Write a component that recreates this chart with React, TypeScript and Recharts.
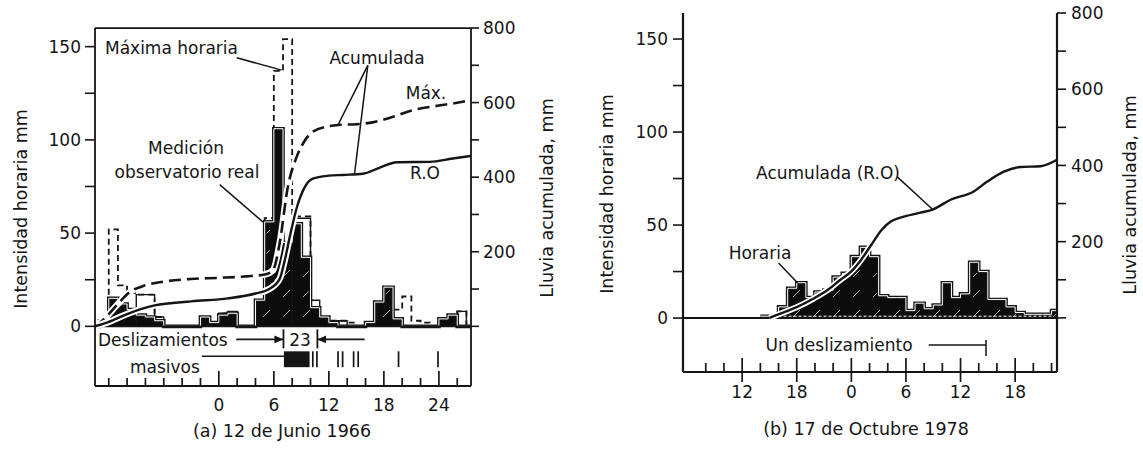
import React from 'react';
import { Area, ComposedChart, Line, ReferenceArea, ReferenceLine, XAxis, YAxis } from 'recharts';

const FUENTE = '"DejaVu Sans", "Liberation Sans", sans-serif';
const TINTA = '#151515';

// ---- (a) 12 de junio de 1966 ----
// intensidad horaria (mm), una casilla por hora a partir de las -14 h
const INICIO_A = -14;
const medicionA = [
  0, 3, 15, 12, 9, 6, 5, 3, 0, 0,
  0, 0, 5, 2, 6, 7, 0, 0, 14, 56,
  106, 45, 55, 37, 10, 5, 2, 0, 0, 0,
  2, 13, 21, 4, 0, 0, 0, 0, 4, 6,
  0, 0,
];
const maximaA = [
  0, 3, 52, 22, 18, 17, 17, 5, 0, 0,
  0, 0, 5, 2, 7, 7, 0, 0, 14, 58,
  137, 154, 59, 59, 10, 5, 3, 3, 2, 0,
  2, 13, 21, 9, 16, 3, 2, 0, 4, 6,
  8, 0,
];
const horariaROA = [
  0, 0, 0, 0, 0, 17, 17, 5, 0, 0,
  0, 0, 0, 0, 7, 8, 0, 0, 0, 0,
  0, 0, 58, 58, 14, 5, 3, 3, 0, 0,
  0, 0, 0, 0, 0, 0, 0, 0, 0, 0,
  8, 0,
];

// lluvia acumulada (mm)
const acumMaxHorasA = [-13.5, -12.5, -11, -9.7, -8, -6, -3, 0, 3, 5, 5.9, 6.65, 7.5, 8.5, 9.3, 10.25, 12.1, 13, 15, 16.8, 19, 21.2, 24, 26.6, 27.5];
const acumMaxA = [0, 20, 60, 92, 110, 120, 127, 130, 134, 139, 150, 225, 370, 455, 495, 522, 537, 540, 542, 547, 562, 580, 592, 602, 607];
const acumROHorasA = [-13.5, -12, -10, -7, -3, 1, 4, 5.5, 6.65, 7.2, 7.74, 8.5, 9.3, 10.25, 12, 13.5, 15.7, 17.5, 19.4, 23, 25.5, 27.5];
const acumROA = [0, 12, 33, 56, 67, 75, 88, 100, 128, 178, 240, 318, 370, 396, 404, 406, 409, 425, 440, 441, 450, 457];

// deslizamientos masivos (hora)
const bloqueMasivoA = [7.1, 9.9];
const deslizamientosA = [10.25, 10.7, 13.0, 13.5, 14.7, 15.2, 19.6, 23.9];
const lapsoA = [7.05, 10.75];

// ---- (b) 17 de octubre de 1978 ----
const INICIO_B = -10;
const horariaB = [
  1, 1, 6, 16, 19, 11, 14, 15, 22, 24,
  33, 38, 33, 12, 11, 11, 4, 8, 5, 7,
  19, 11, 13, 30, 25, 10, 10, 6, 3, 2,
  2, 2, 4,
];
const acumHorasB = [-9, -7.5, -6, -4.2, -2.5, -1.2, 0, 1, 2.2, 3.3, 4.3, 5.4, 7.6, 9, 10.9, 13.4, 14.9, 16.7, 18.6, 20.8, 22.6];
const acumB = [0, 14, 28, 50, 75, 100, 122, 150, 192, 230, 252, 263, 276, 285, 310, 331, 357, 383, 396, 398, 415];
const deslizamientoB = 14.8;

// ejes
const rango = (desde: number, hasta: number, paso: number) => {
  const r: number[] = [];
  for (let v = desde; v <= hasta; v += paso) r.push(v);
  return r;
};
const ticksHoraA = rango(-12, 26, 2);
const etiquetasHoraA: Record<number, string> = { 0: '0', 6: '6', 12: '12', 18: '18', 24: '24' };
const ticksHoraB = rango(-16, 22, 2);
const etiquetasHoraB: Record<number, string> = { [-12]: '12', [-6]: '18', 0: '0', 6: '6', 12: '12', 18: '18' };
const ticksIntensidad = rango(0, 150, 25);
const ticksAcumulada = rango(0, 800, 100);

const pasos = (inicio: number, valores: number[]) => [
  ...valores.map((v, i) => ({ h: inicio + i, v })),
  { h: inicio + valores.length, v: 0 },
];
const puntos = (horas: number[], valores: number[]) => horas.map((h, i) => ({ h, v: valores[i] }));

const tickY = (mostrar: number[]) => (props: any) => {
  const { x, y, payload, textAnchor } = props;
  if (!mostrar.includes(payload.value)) return <g />;
  return (
    <text x={x} y={y} dy="0.36em" textAnchor={textAnchor} fontSize={17} fontFamily={FUENTE} fill={TINTA}>
      {payload.value}
    </text>
  );
};

const tickX = (etiquetas: Record<number, string>, corto: number, largo: number, abajo: number, sep: number) => (props: any) => {
  const { x, y, payload } = props;
  const et = etiquetas[payload.value];
  const mayor = et !== undefined;
  return (
    <g>
      <line x1={x} x2={x} y1={y + (mayor ? abajo : 0)} y2={y - (mayor ? largo : corto)} stroke={TINTA} strokeWidth={1.7} />
      {mayor && (
        <text x={x} y={y + sep} dy="0.36em" textAnchor="middle" fontSize={17} fontFamily={FUENTE} fill={TINTA}>
          {et}
        </text>
      )}
    </g>
  );
};

const Nota = ({ x, y, children, inicio = false, tam = 17, giro = false }: any) => (
  <div
    style={{
      position: 'absolute',
      left: x,
      top: y,
      transform: `translate(${inicio ? '0' : '-50%'}, -50%)${giro ? ' rotate(-90deg)' : ''}`,
      whiteSpace: 'nowrap',
      fontSize: tam,
      lineHeight: 1,
      fontFamily: FUENTE,
      color: TINTA,
    }}
  >
    {children}
  </div>
);

const Rayado = ({ id }: { id: string }) => (
  <pattern id={id} width="20" height="20" patternUnits="userSpaceOnUse">
    <rect width="20" height="20" fill="#0c0c0c" />
    <path d="M3,17 L10,10" stroke="#fff" strokeWidth="0.9" opacity="0.75" />
  </pattern>
);

const PanelA = () => (
  <ComposedChart width={560} height={449} margin={{ top: 28, right: 19, bottom: 33, left: 15 }}>
    <defs>
      <Rayado id="rayado-a" />
      <marker id="flecha-a" markerWidth="9" markerHeight="8" refX="9" refY="4" orient="auto" markerUnits="userSpaceOnUse">
        <path d="M0,0 L9,4 L0,8 z" fill={TINTA} />
      </marker>
    </defs>
    <XAxis
      type="number"
      dataKey="h"
      domain={[-13.5, 27.5]}
      allowDataOverflow
      ticks={ticksHoraA}
      interval={0}
      height={30}
      tickLine={false}
      tickSize={0}
      tickMargin={0}
      axisLine={{ stroke: TINTA, strokeWidth: 1.8 }}
      tick={tickX(etiquetasHoraA, 8, 15, 0, 19)}
    />
    <YAxis
      yAxisId="i"
      type="number"
      domain={[-32, 160]}
      allowDataOverflow
      ticks={ticksIntensidad}
      interval={0}
      width={80}
      tickSize={10}
      tickMargin={4}
      axisLine={{ stroke: TINTA, strokeWidth: 1.8 }}
      tickLine={{ stroke: TINTA, strokeWidth: 1.6 }}
      tick={tickY([0, 50, 100, 150])}
    />
    <YAxis
      yAxisId="a"
      orientation="right"
      type="number"
      domain={[-160, 800]}
      allowDataOverflow
      ticks={ticksAcumulada}
      interval={0}
      width={70}
      tickSize={8}
      tickMargin={4}
      axisLine={{ stroke: TINTA, strokeWidth: 1.8 }}
      tickLine={{ stroke: TINTA, strokeWidth: 1.6 }}
      tick={tickY([200, 400, 600, 800])}
    />
    <ReferenceLine yAxisId="i" y={159.9} stroke={TINTA} strokeWidth={1.8} />

    {/* máxima horaria y horaria R.O (contornos) */}
    <Line yAxisId="i" data={pasos(INICIO_A, maximaA)} dataKey="v" type="stepAfter" stroke={TINTA} strokeWidth={1.8} strokeDasharray="6 4" dot={false} activeDot={false} isAnimationActive={false} />
    <Line yAxisId="i" data={pasos(INICIO_A, horariaROA)} dataKey="v" type="stepAfter" stroke={TINTA} strokeWidth={1.4} dot={false} activeDot={false} isAnimationActive={false} />

    {/* medición del observatorio: barras negras con filete blanco */}
    <Area yAxisId="i" data={pasos(INICIO_A, medicionA)} dataKey="v" type="stepAfter" baseValue={0} fill="url(#rayado-a)" fillOpacity={1} stroke={TINTA} strokeWidth={3.6} isAnimationActive={false} />
    <Line yAxisId="i" data={pasos(INICIO_A, medicionA)} dataKey="v" type="stepAfter" stroke="#fff" strokeWidth={1} dot={false} activeDot={false} isAnimationActive={false} />
    <ReferenceLine yAxisId="i" y={0} stroke={TINTA} strokeWidth={1.9} />

    {/* acumuladas */}
    <Line yAxisId="a" data={puntos(acumMaxHorasA, acumMaxA)} dataKey="v" type="monotone" stroke="#fff" strokeWidth={6.5} dot={false} activeDot={false} isAnimationActive={false} />
    <Line yAxisId="a" data={puntos(acumMaxHorasA, acumMaxA)} dataKey="v" type="monotone" stroke={TINTA} strokeWidth={2.6} strokeDasharray="12 6" dot={false} activeDot={false} isAnimationActive={false} />
    <Line yAxisId="a" data={puntos(acumROHorasA, acumROA)} dataKey="v" type="monotone" stroke="#fff" strokeWidth={6.5} dot={false} activeDot={false} isAnimationActive={false} />
    <Line yAxisId="a" data={puntos(acumROHorasA, acumROA)} dataKey="v" type="monotone" stroke={TINTA} strokeWidth={2.4} dot={false} activeDot={false} isAnimationActive={false} />

    {/* guías de las notas */}
    <ReferenceLine yAxisId="i" segment={[{ x: 1.96, y: 144 }, { x: 6.85, y: 137.4 }]} stroke={TINTA} strokeWidth={1.5} />
    <ReferenceLine yAxisId="i" segment={[{ x: 0.1, y: 76 }, { x: 4.8, y: 56 }]} stroke={TINTA} strokeWidth={1.5} />
    <ReferenceLine yAxisId="i" segment={[{ x: 16.25, y: 140 }, { x: 13.0, y: 108 }]} stroke={TINTA} strokeWidth={1.5} />
    <ReferenceLine yAxisId="i" segment={[{ x: 16.25, y: 140 }, { x: 14.8, y: 81.8 }]} stroke={TINTA} strokeWidth={1.5} />

    {/* franja de deslizamientos */}
    <ReferenceLine yAxisId="i" segment={[{ x: 1.9, y: -7 }, { x: lapsoA[0], y: -7 }]} stroke={TINTA} strokeWidth={1.6} markerEnd="url(#flecha-a)" />
    <ReferenceLine yAxisId="i" segment={[{ x: 15.9, y: -7 }, { x: lapsoA[1], y: -7 }]} stroke={TINTA} strokeWidth={1.6} markerEnd="url(#flecha-a)" />
    {lapsoA.map((h) => (
      <ReferenceLine key={`l${h}`} yAxisId="i" segment={[{ x: h, y: -1.6 }, { x: h, y: -11.8 }]} stroke={TINTA} strokeWidth={1.8} />
    ))}
    <ReferenceLine yAxisId="i" segment={[{ x: -1.85, y: -16 }, { x: bloqueMasivoA[0], y: -16 }]} stroke={TINTA} strokeWidth={1.5} />
    <ReferenceArea yAxisId="i" x1={bloqueMasivoA[0]} x2={bloqueMasivoA[1]} y1={-21.9} y2={-13.4} fill={TINTA} fillOpacity={1} stroke="none" />
    {deslizamientosA.map((h) => (
      <ReferenceLine key={`d${h}`} yAxisId="i" segment={[{ x: h, y: -13.4 }, { x: h, y: -21.9 }]} stroke={TINTA} strokeWidth={1.7} />
    ))}
  </ComposedChart>
);

const PanelB = () => (
  <ComposedChart width={547} height={449} margin={{ top: 13, right: 20, bottom: 37, left: 0 }}>
    <defs>
      <Rayado id="rayado-b" />
    </defs>
    <XAxis
      type="number"
      dataKey="h"
      domain={[-18.5, 22.6]}
      allowDataOverflow
      ticks={ticksHoraB}
      interval={0}
      height={40}
      tickLine={false}
      tickSize={0}
      tickMargin={0}
      axisLine={{ stroke: TINTA, strokeWidth: 2.2 }}
      tick={tickX(etiquetasHoraB, 9, 14, 10, 20)}
    />
    <YAxis
      yAxisId="i"
      type="number"
      domain={[-29, 164]}
      allowDataOverflow
      ticks={ticksIntensidad}
      interval={0}
      width={93}
      tickSize={10}
      tickMargin={5}
      axisLine={{ stroke: TINTA, strokeWidth: 2.2 }}
      tickLine={{ stroke: TINTA, strokeWidth: 1.6 }}
      tick={tickY([0, 50, 100, 150])}
    />
    <YAxis
      yAxisId="a"
      orientation="right"
      type="number"
      domain={[-142, 800]}
      allowDataOverflow
      ticks={ticksAcumulada}
      interval={0}
      width={60}
      tickSize={9}
      tickMargin={5}
      axisLine={{ stroke: TINTA, strokeWidth: 2.2 }}
      tickLine={{ stroke: TINTA, strokeWidth: 1.6 }}
      tick={tickY([200, 400, 600, 800])}
    />

    {/* horaria: barras negras con filete blanco */}
    <Area yAxisId="i" data={pasos(INICIO_B, horariaB)} dataKey="v" type="stepAfter" baseValue={0} fill="url(#rayado-b)" fillOpacity={1} stroke={TINTA} strokeWidth={3.6} isAnimationActive={false} />
    <Line yAxisId="i" data={pasos(INICIO_B, horariaB)} dataKey="v" type="stepAfter" stroke="#fff" strokeWidth={1} dot={false} activeDot={false} isAnimationActive={false} />
    <ReferenceLine yAxisId="i" y={0} stroke={TINTA} strokeWidth={1.9} />
    <ReferenceLine yAxisId="i" segment={[{ x: -8, y: 1 }, { x: 22, y: 1 }]} stroke="#fff" strokeWidth={1} strokeDasharray="3 2" />

    {/* acumulada (R.O) */}
    <Line yAxisId="a" data={puntos(acumHorasB, acumB)} dataKey="v" type="monotone" stroke="#fff" strokeWidth={6} dot={false} activeDot={false} isAnimationActive={false} />
    <Line yAxisId="a" data={puntos(acumHorasB, acumB)} dataKey="v" type="monotone" stroke={TINTA} strokeWidth={2.4} dot={false} activeDot={false} isAnimationActive={false} />

    {/* guías */}
    <ReferenceLine yAxisId="i" segment={[{ x: -8, y: 29.6 }, { x: -5.9, y: 18.8 }]} stroke={TINTA} strokeWidth={1.5} />
    <ReferenceLine yAxisId="a" segment={[{ x: 5.05, y: 370 }, { x: 9.0, y: 283 }]} stroke={TINTA} strokeWidth={1.5} />

    {/* un deslizamiento */}
    <ReferenceLine yAxisId="i" segment={[{ x: 8.5, y: -14.5 }, { x: deslizamientoB, y: -14.5 }]} stroke={TINTA} strokeWidth={1.5} />
    <ReferenceLine yAxisId="i" segment={[{ x: deslizamientoB, y: -11.8 }, { x: deslizamientoB, y: -20.4 }]} stroke={TINTA} strokeWidth={1.5} />
  </ComposedChart>
);

export default function App() {
  return (
    <div style={{ position: 'absolute', left: 0, top: 0, width: 1143, height: 449, background: '#fff', overflow: 'hidden' }}>
      <div style={{ position: 'absolute', left: 0, top: 0 }}>
        <PanelA />
      </div>
      <div style={{ position: 'absolute', left: 590, top: 0 }}>
        <PanelB />
      </div>

      {/* textos del panel (a) */}
      <Nota x={22} y={209} giro tam={17.5}>Intensidad horaria mm</Nota>
      <Nota x={548} y={198} giro tam={17.5}>Lluvia acumulada, mm</Nota>
      <Nota x={105} y={48} inicio>Máxima horaria</Nota>
      <Nota x={186} y={148}>Medición</Nota>
      <Nota x={187} y={172}>observatorio real</Nota>
      <Nota x={377} y={58}>Acumulada</Nota>
      <Nota x={426} y={93}>Máx.</Nota>
      <Nota x={425} y={173}>R.O</Nota>
      <Nota x={98} y={340} inicio>Deslizamientos</Nota>
      <Nota x={130} y={367} inicio>masivos</Nota>
      <Nota x={300} y={340}>23</Nota>
      <Nota x={282} y={432} tam={17.5}>(a) 12 de Junio 1966</Nota>

      {/* textos del panel (b) */}
      <Nota x={608} y={194} giro tam={17.5}>Intensidad horaria mm</Nota>
      <Nota x={1131} y={195} giro tam={17.5}>Lluvia acumulada, mm</Nota>
      <Nota x={828} y={173}>Acumulada (R.O)</Nota>
      <Nota x={760} y={253}>Horaria</Nota>
      <Nota x={839} y={345}>Un deslizamiento</Nota>
      <Nota x={866} y={430} tam={17.5}>(b) 17 de Octubre 1978</Nota>
    </div>
  );
}
